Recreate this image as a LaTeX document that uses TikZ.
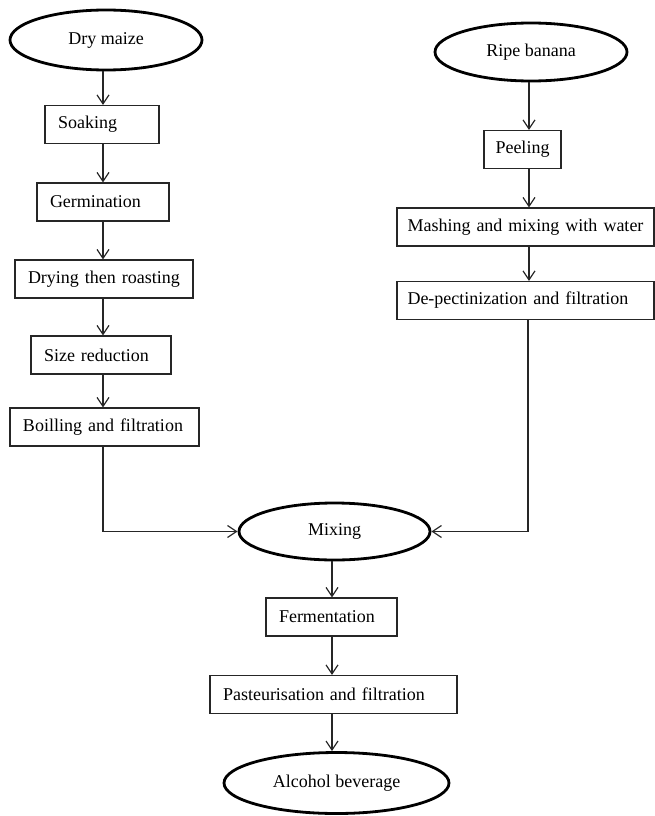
\documentclass[tikz,border=0pt]{standalone}
\usepackage{fontspec}
\setmainfont{Liberation Serif}
\usetikzlibrary{shapes.geometric,arrows.meta}

\begin{document}
\begin{tikzpicture}[x=1pt, y=-1pt,
    box/.style={draw=black!85, line width=1.1pt, align=left, inner xsep=13pt,
                inner ysep=0pt, minimum height=38pt,
                font=\fontsize{18}{21}\selectfont},
    oval/.style={ellipse, draw=black, line width=2.8pt, inner sep=0pt,
                 font=\fontsize{18}{21}\selectfont},
    flow/.style={draw=black!85, line width=1.2pt,
                 -{Straight Barb[length=9pt,width=12pt,line width=1.2pt]}}]

  \useasboundingbox (0,0) rectangle (655,816);

  % arrow columns (x only)
  \coordinate (colL) at (103,0);
  \coordinate (colR) at (529,0);
  \coordinate (colC) at (332,0);

  % ============================================================
  % LEFT COLUMN — maize
  % ============================================================
  \node[oval, minimum width=192pt, minimum height=60pt] (maize) at (106,40) {Dry maize};

  \node[box, text width=88pt]  (soak) at (102,124.5) {Soaking};
  \node[box, text width=106pt] (germ) at (103,202)   {Germination};
  \node[box, text width=152pt] (dry)  at (104,279)   {Drying then roasting};
  \node[box, text width=114pt] (size) at (101,355)   {Size reduction};
  \node[box, text width=163pt] (boil) at (104.5,427) {Boilling and filtration};

  \draw[flow] (maize.south -| colL) -- (soak.north -| colL);
  \draw[flow] (soak.south -| colL)  -- (germ.north -| colL);
  \draw[flow] (germ.south -| colL)  -- (dry.north -| colL);
  \draw[flow] (dry.south -| colL)   -- (size.north -| colL);
  \draw[flow] (size.south -| colL)  -- (boil.north -| colL);

  % ============================================================
  % RIGHT COLUMN — banana
  % ============================================================
  \node[oval, minimum width=192pt, minimum height=58pt] (banana) at (531,52) {Ripe banana};

  \node[box, text width=54pt, inner xsep=11.5pt] (peel) at (522.5,149.5) {Peeling};
  % wide boxes run to the right edge of the picture
  \node[box, text width=236pt, inner xsep=10.5pt] (mash)   at (525.5,227)   {Mashing and mixing with water};
  \node[box, text width=236pt, inner xsep=10.5pt] (depect) at (525.5,300.5) {De-pectinization and filtration};

  \draw[flow] (banana.south -| colR) -- (peel.north -| colR);
  \draw[flow] (peel.south -| colR)   -- (mash.north -| colR);
  \draw[flow] (mash.south -| colR)   -- (depect.north -| colR);

  % ============================================================
  % CENTRE — both streams joined
  % ============================================================
  \node[oval, minimum width=191pt, minimum height=57pt] (mix) at (334.5,531.5) {Mixing};

  \node[box, text width=105pt] (ferm) at (331.5,617)   {Fermentation};
  \node[box, text width=221pt] (past) at (333.5,694.5) {Pasteurisation and filtration};

  \node[oval, minimum width=225pt, minimum height=61pt] (drink) at (336.5,783) {Alcohol beverage};

  \draw[flow] (boil.south -| colL) |- (mix.west);
  \draw[flow] ([xshift=-1pt]depect.south -| colR) |- (mix.east);

  \draw[flow] (mix.south -| colC)  -- (ferm.north -| colC);
  \draw[flow] (ferm.south -| colC) -- (past.north -| colC);
  \draw[flow] (past.south -| colC) -- (drink.north -| colC);

\end{tikzpicture}
\end{document}
